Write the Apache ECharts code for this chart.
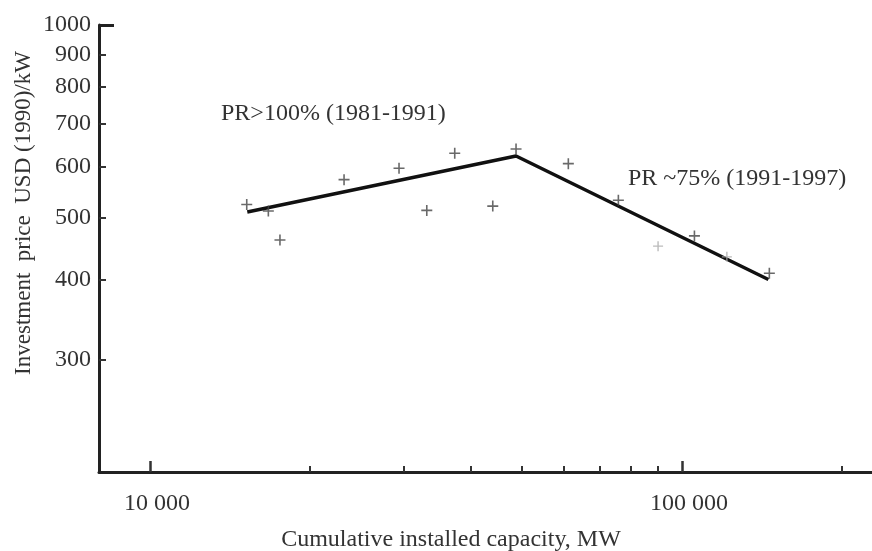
<!DOCTYPE html>
<html>
<head>
<meta charset="utf-8">
<script src="https://cdn.jsdelivr.net/npm/echarts@6/dist/echarts.min.js"></script>
<style>
html,body{margin:0;padding:0;background:#fff;}
#chart{width:872px;height:551px;}
</style>
</head>
<body>
<div id="chart"></div>
<script>
// Cumulative installed capacity (MW) vs investment price USD(1990)/kW
const pointsCapacity = [15200, 16690, 17550, 23160, 29380, 33130, 37390, 44080, 48750, 61130, 75910, 105500, 145900];
const pointsPrice    = [524,   512,   461,   573,   597,   513,   630,   521,   640,   607,   532,   468,    409];
const faintCapacity = [90140, 121400];
const faintPrice    = [451,   434];
const fitCapacity = [15235, 48750, 145300];
const fitPrice    = [510,   624,   400];

const xMajorTicks = [10000, 100000];
const xMajorLabels = ['10 000', '100 000'];
const xMinorTicks = [20000, 30000, 40000, 50000, 60000, 70000, 80000, 90000, 200000];
const yTicks = [300, 400, 500, 600, 700, 800, 900];
const yLabels = [300, 400, 500, 600, 700, 800, 900, 1000];
const yTopTick = [1000];

const xTitle = 'Cumulative installed capacity, MW';
const yTitle = 'Investment  price  USD (1990)/kW';
const note1 = 'PR>100% (1981-1991)';
const note2 = 'PR ~75% (1991-1997)';

const FONT = 'Liberation Serif';
const TXT = '#333';
const X_MIN = 8020, X_MAX = 227500, Y_MIN = 200, Y_MAX = 1000;

const zip = (a, b) => a.map((v, i) => [v, b[i]]);
const crossPath = 'path://M0,5L10,5M5,0L5,10';

const chart = echarts.init(document.getElementById('chart'));
chart.setOption({
  animation: false,
  backgroundColor: '#fff',
  grid: { left: 99, top: 25, right: 0, bottom: 79, containLabel: false },
  xAxis: [
    {
      type: 'log', min: X_MIN, max: X_MAX, position: 'bottom',
      axisLine: { show: true, onZero: false, lineStyle: { color: '#222', width: 3 } },
      axisTick: { show: true, inside: true, length: 11, customValues: xMajorTicks, lineStyle: { color: '#333', width: 2.5 } },
      axisLabel: {
        show: true, customValues: xMajorTicks, margin: 20,
        fontFamily: FONT, fontSize: 24, color: TXT, padding: [0, 0, 0, 14],
        formatter: v => xMajorLabels[xMajorTicks.indexOf(Math.round(v))] || ''
      },
      splitLine: { show: false }, minorTick: { show: false }
    },
    {
      type: 'log', min: X_MIN, max: X_MAX, position: 'bottom',
      axisLine: { show: false },
      axisTick: { show: true, inside: true, length: 6, customValues: xMinorTicks, lineStyle: { color: '#333', width: 2 } },
      axisLabel: { show: false },
      splitLine: { show: false }
    }
  ],
  yAxis: [
    {
      type: 'log', min: Y_MIN, max: Y_MAX, position: 'left',
      axisLine: { show: true, onZero: false, lineStyle: { color: '#222', width: 3 } },
      axisTick: { show: true, inside: true, length: 7, customValues: yTicks, lineStyle: { color: '#333', width: 2 } },
      axisLabel: {
        show: true, customValues: yLabels, margin: 8,
        fontFamily: FONT, fontSize: 24, color: TXT,
        formatter: v => String(Math.round(v))
      },
      splitLine: { show: false }
    },
    {
      type: 'log', min: Y_MIN, max: Y_MAX, position: 'left',
      axisLine: { show: false },
      axisTick: { show: true, inside: true, length: 15, customValues: yTopTick, lineStyle: { color: '#222', width: 3 } },
      axisLabel: { show: false },
      splitLine: { show: false }
    }
  ],
  series: [
    {
      type: 'line', data: zip(fitCapacity, fitPrice), symbol: 'none',
      lineStyle: { color: '#111', width: 3.5 }, z: 3
    },
    {
      type: 'scatter', data: zip(pointsCapacity, pointsPrice),
      symbol: crossPath, symbolSize: 11,
      itemStyle: { color: 'none', borderColor: '#444', borderWidth: 1.6 }, z: 4
    },
    {
      type: 'scatter', data: zip(faintCapacity, faintPrice),
      symbol: crossPath, symbolSize: 10,
      itemStyle: { color: 'none', borderColor: '#aaa', borderWidth: 1.4 }, z: 4
    }
  ],
  graphic: [
    { type: 'text', left: 221, top: 102, style: { text: note1, font: '24px "' + FONT + '"', fill: TXT } },
    { type: 'text', left: 628, top: 167, style: { text: note2, font: '24px "' + FONT + '"', fill: TXT } },
    { type: 'text', x: 451, y: 540, style: { text: xTitle, font: '24px "' + FONT + '"', fill: TXT, align: 'center', verticalAlign: 'middle' } },
    { type: 'text', x: 24, y: 213, rotation: Math.PI / 2, style: { text: yTitle, font: '23px "' + FONT + '"', fill: TXT, align: 'center', verticalAlign: 'middle' } }
  ]
});
</script>
</body>
</html>
